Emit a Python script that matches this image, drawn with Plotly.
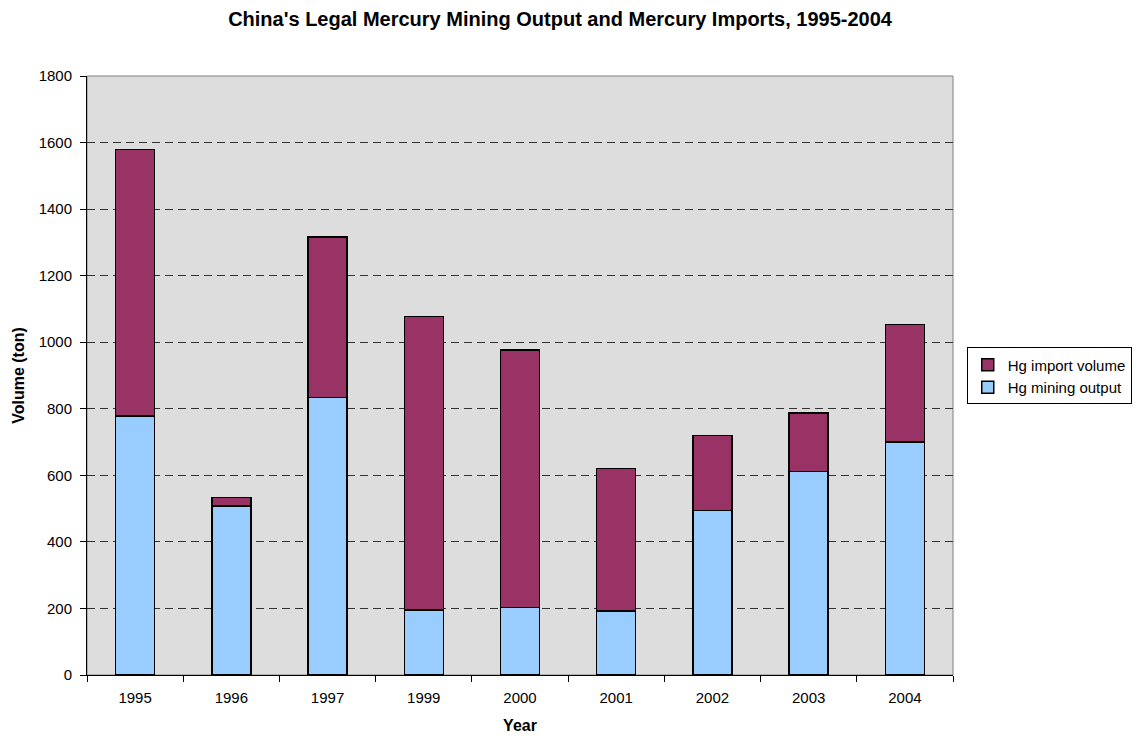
import plotly.graph_objects as go

years = ["1995", "1996", "1997", "1999", "2000", "2001", "2002", "2003", "2004"]
mining_output = [778, 508, 834, 195, 203, 193, 495, 611, 700]
totals = [1579, 533, 1316, 1077, 977, 620, 719, 787, 1054]
import_volume = [t - m for t, m in zip(totals, mining_output)]

fig = go.Figure()
fig.add_trace(go.Bar(
    x=years, y=mining_output, name="Hg mining output",
    marker=dict(color="#99CCFF", line=dict(color="#000000", width=1.5)),
))
fig.add_trace(go.Bar(
    x=years, y=import_volume, name="Hg import volume",
    marker=dict(color="#993366", line=dict(color="#000000", width=1.5)),
))

font_family = "Liberation Sans, Arial, sans-serif"

fig.update_layout(
    barmode="stack",
    bargap=0.595,
    width=1136, height=740,
    margin=dict(l=87, r=183, t=76, b=65, autoexpand=False),
    paper_bgcolor="white",
    plot_bgcolor="#DDDDDD",
    font=dict(family=font_family, size=15, color="#000000"),
    title=dict(
        text="<b>China's Legal Mercury Mining Output and Mercury Imports, 1995-2004</b>",
        x=0.493, xanchor="center", y=0.975, yanchor="middle",
        font=dict(size=20, family=font_family),
    ),
    legend=dict(
        xref="container", yref="container",
        x=0.851, xanchor="left",
        y=0.492, yanchor="middle",
        traceorder="reversed",
        bordercolor="#000000", borderwidth=1,
        bgcolor="white",
        font=dict(size=15, family=font_family),
        itemwidth=30,
        tracegroupgap=0,
    ),
    showlegend=True,
    xaxis=dict(
        title=dict(text="<b>Year</b>", font=dict(size=16), standoff=14),
        showline=True, linecolor="#000000", linewidth=1,
        ticks="outside", tickson="boundaries", ticklen=6, tickcolor="#000000",
        ticklabelstandoff=9,
        showgrid=False,
        tickfont=dict(size=15),
    ),
    yaxis=dict(
        title=dict(text="<b>Volume (ton)</b>", font=dict(size=16), standoff=10),
        range=[0, 1800], dtick=200,
        showline=True, linecolor="#000000", linewidth=1,
        ticks="outside", ticklen=6, tickcolor="#000000",
        ticklabelstandoff=5,
        showgrid=True, gridcolor="#333333", griddash="8px,5px", gridwidth=1,
        zeroline=False,
        tickfont=dict(size=15),
    ),
)

fig.add_shape(type="rect", xref="paper", yref="paper", x0=0, y0=0, x1=1, y1=1,
              line=dict(color="#808080", width=1), layer="below")

fig.write_html("out.html")
